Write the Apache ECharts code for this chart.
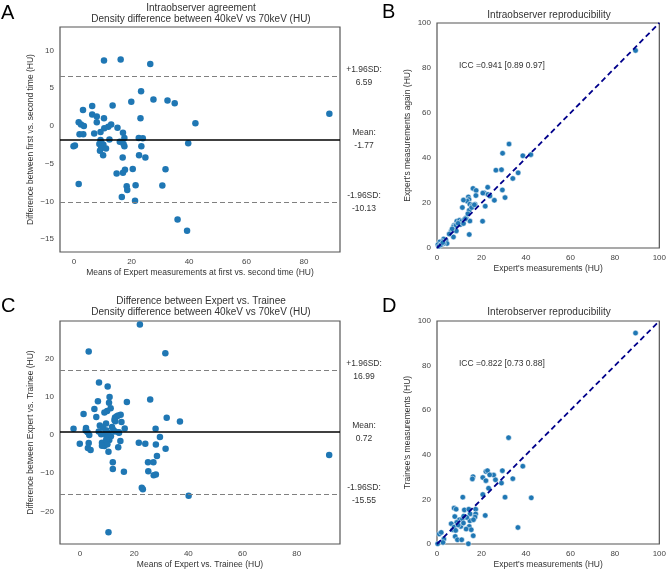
<!DOCTYPE html>
<html>
<head>
<meta charset="utf-8">
<script src="https://cdn.jsdelivr.net/npm/echarts@6/dist/echarts.min.js"></script>
<style>
  html, body { margin: 0; padding: 0; background: #fff; }
  #chart { width: 669px; height: 571px; }
</style>
</head>
<body>
<div id="chart"></div>
<script>
//  A: Bland-Altman, expert first vs second time  [mean, difference]
const intraPoints = [
    [10.4, 8.65], [16.2, 8.8], [26.5, 8.2], [23.3, 4.6], [27.6, 3.5], [32.5, 3.35], [35, 3.0],
    [19.9, 3.2], [13.4, 2.7], [6.3, 2.65], [3.1, 2.1], [6.3, 1.5], [7.9, 1.25], [10.4, 1.0],
    [23.1, 1.0], [88.8, 1.6], [42.2, 0.35], [7.9, 0.5], [1.6, 0.5], [2.4, 0.2], [3.4, 0.0],
    [12.9, 0.2], [11.9, -0.1], [10.5, -0.3], [15.1, -0.25], [9.2, -0.8], [7.0, -1.0], [17.0, -0.9],
    [1.9, -1.1], [3.2, -1.1], [39.7, -2.3], [22.5, -1.6], [23.9, -1.65], [17.5, -1.6], [12.3, -1.8],
    [9.2, -1.85], [9.5, -2.2], [8.8, -2.4], [10.2, -2.5], [15.9, -2.1], [17.2, -2.4], [17.5, -2.7],
    [23.4, -2.7], [-0.2, -2.7], [0.3, -2.6], [9.4, -2.95], [11.1, -3.0], [9.0, -3.3], [10.1, -3.9],
    [22.6, -3.9], [24.8, -4.2], [16.9, -4.2], [20.4, -5.7], [31.8, -5.75], [17.7, -5.8], [17.0, -6.2],
    [14.8, -6.3], [1.6, -7.7], [30.7, -7.9], [21.4, -7.85], [18.3, -8.0], [18.5, -8.5], [16.6, -9.4],
    [21.2, -9.9], [36, -12.4], [39.3, -13.9]
];
//  +1.96SD, mean, -1.96SD
const intraLimits = [6.59, -1.77, -10.13];

//  C: Bland-Altman, expert vs trainee
const interPoints = [
    [22.1, 28.9], [3.2, 21.8], [31.5, 21.4], [7.0, 13.7], [10.2, 12.7], [10.9, 9.9], [6.6, 8.8],
    [17.3, 8.6], [25.9, 9.3], [10.7, 8.4], [5.3, 6.8], [11.3, 7.0], [10.0, 6.3], [9.0, 5.9],
    [1.3, 5.5], [6.0, 4.7], [14.1, 5.1], [15.0, 5.3], [12.9, 4.6], [13.6, 4.9], [12.7, 3.9],
    [15.3, 3.4], [13.0, 3.6], [32.0, 4.5], [36.9, 3.5], [7.3, 2.5], [8.5, 1.9], [9.7, 1.2],
    [9.6, 3.0], [11.8, 2.1], [12.3, 1.3], [12.9, 0.9], [16.5, 1.7], [-2.4, 1.6], [2.2, 1.8],
    [2.1, 1.2], [2.8, 0.7], [3.4, 0.0], [6.9, 0.9], [7.8, 0.2], [9.5, 0.2], [10.5, 0.5],
    [11.4, -0.3], [14.3, 0.7], [27.9, 1.6], [29.5, -0.5], [21.7, -2.0], [24.1, -2.3], [28.0, -2.5],
    [31.6, -3.6], [-0.1, -2.3], [3.2, -2.1], [2.9, -3.4], [3.9, -3.9], [8.1, -2.0], [9.0, -2.9],
    [8.1, -2.8], [10.8, -1.3], [10.0, -0.7], [9.7, -1.1], [10.1, -2.4], [10.5, -4.4], [14.9, -1.6],
    [14.1, -3.2], [12.1, -7.1], [12.1, -8.9], [16.2, -9.6], [22.8, -13.8], [23.2, -14.2], [25.1, -7.1],
    [27.1, -7.1], [25.2, -9.5], [27.2, -10.5], [28.0, -10.3], [28.4, -5.5], [40.1, -15.9], [92.0, -5.2],
    [10.5, -25.4], [9.6, 1.1], [14.4, 0.6]
];
const interLimits = [16.99, 0.72, -15.55];
const limitNames = ['+1.96SD:', 'Mean:', '-1.96SD:'];

//  B: expert first vs again
const reproPoints = [
    [89.3, 87.8], [32.4, 46.2], [29.5, 42.1], [38.6, 41.0], [42.2, 41.5], [26.5, 34.6], [29.0, 34.8],
    [36.5, 33.4], [34.1, 30.9], [29.4, 25.8], [30.6, 22.4], [25.8, 21.2], [16.2, 26.5], [17.6, 25.6],
    [22.8, 27.0], [21.3, 24.5], [22.9, 23.8], [23.8, 23.1], [20.6, 24.4], [17.5, 23.3], [14.1, 22.7],
    [14.4, 21.6], [13.6, 20.8], [11.9, 21.3], [14.8, 19.5], [15.9, 19.0], [17.1, 19.5], [14.5, 16.8],
    [15.6, 18.0], [11.4, 18.0], [21.7, 18.6], [20.5, 11.9], [14.8, 12.0], [14.5, 6.0], [7.4, 4.9],
    [6.4, 7.6], [8.7, 7.6], [7.7, 10.1], [8.9, 11.9], [10.1, 12.3], [11.1, 11.9], [12.3, 12.7],
    [13.1, 13.5], [7.4, 9.4], [8.6, 10.1], [10.5, 10.4], [11.9, 10.9], [4.0, 3.4], [3.0, 4.0],
    [2.2, 3.0], [1.2, 2.7], [0.4, 1.5], [0.9, 0.8], [4.5, 2.0], [3.0, 2.0], [9.5, 11.0],
    [12.8, 13.0], [6.8, 8.5], [5.5, 6.2], [1.8, 1.5], [2.6, 2.4], [16.8, 19.2], [13.9, 15.2]
];

//  D: expert vs trainee
const traineePoints = [
    [89.3, 94.6], [32.2, 47.7], [38.6, 34.9], [29.4, 32.9], [22.0, 32.5], [22.7, 32.9], [25.5, 30.9],
    [23.7, 31.0], [26.3, 28.8], [20.6, 29.8], [22.0, 28.4], [16.2, 30.2], [15.9, 29.2], [29.0, 27.3],
    [34.1, 29.3], [23.2, 25.0], [20.6, 22.2], [30.6, 21.0], [42.4, 20.7], [11.6, 21.0], [7.7, 16.1],
    [8.6, 15.6], [12.3, 15.3], [14.3, 15.6], [17.4, 15.6], [14.9, 13.5], [17.4, 13.5], [14.8, 10.4],
    [21.7, 12.8], [17.1, 12.1], [16.4, 10.9], [8.0, 12.3], [10.1, 10.9], [11.4, 11.2], [13.4, 11.9],
    [8.9, 9.7], [6.4, 9.1], [10.7, 7.9], [11.9, 9.4], [14.5, 7.9], [15.4, 6.4], [13.1, 6.7],
    [7.1, 6.4], [7.7, 7.6], [8.4, 6.1], [36.4, 7.4], [16.3, 3.7], [8.2, 3.4], [9.2, 1.9],
    [11.1, 1.9], [14.1, 0.1], [1.0, 4.5], [1.9, 5.2], [3.1, 2.2], [2.7, 0.7], [0.3, 0.1],
    [12.0, 12.5], [9.5, 8.5]
];
const identityLine = [[0, 0], [100, 100]];

const baTicksX = [0, 20, 40, 60, 80];
const intraTicksY = [-15, -10, -5, 0, 5, 10];
const interTicksY = [-20, -10, 0, 10, 20];

const FONT = '"Liberation Sans", Arial, sans-serif';
const textColor = '#333';
const tickColor = '#444';
const pointColor = '#1f77b4';

const gridBase = {show: true, borderColor: '#555', borderWidth: 1.2, backgroundColor: 'transparent'};

//  刻度文字用真正的负号
const tickLabel = function (values) {
    const label = {
        color: tickColor, fontSize: 8, fontFamily: FONT, margin: 6,
        formatter: v => String(v).replace('-', '\u2212'),
    };
    if (values) label.customValues = values;
    return label;
};

function valueAxis(gridIndex, min, max, name, gap, extra) {
    return Object.assign({
        type: 'value',
        gridIndex: gridIndex,
        min: min,
        max: max,
        name: name,
        nameLocation: 'middle',
        nameGap: gap,
        nameTextStyle: {color: textColor, fontSize: 8.5, fontFamily: FONT},
        axisLine: {show: false},
        axisTick: {show: false},
        splitLine: {show: false},
        axisLabel: tickLabel(),
    }, extra || {});
}

//  均值与一致性界限
function limitLines(limits) {
    const styles = [
        {color: '#808080', type: [5, 3], width: 1.1},
        {color: '#000', type: 'solid', width: 1.5},
        {color: '#808080', type: [5, 3], width: 1.1},
    ];
    return {
        symbol: 'none',
        silent: true,
        animation: false,
        label: {
            position: 'end',
            distance: 24,
            align: 'center',
            color: textColor,
            fontSize: 8.5,
            fontFamily: FONT,
            lineHeight: 13,
        },
        data: limits.map((v, i) => ({
            yAxis: v,
            lineStyle: styles[i],
            label: {formatter: limitNames[i] + '\n' + v.toFixed(2)},
        })),
    };
}

function headText(x, y, text, opts) {
    return {
        type: 'text',
        x: x,
        y: y,
        silent: true,
        style: Object.assign({
            text: text,
            fill: textColor,
            font: '10px ' + FONT,
            textAlign: 'center',
            textVerticalAlign: 'middle',
            lineHeight: 11,
        }, opts || {}),
    };
}

const option = {
    animation: false,
    backgroundColor: '#fff',
    grid: [
        Object.assign({left: 60, top: 27, width: 280, height: 225}, gridBase),
        Object.assign({left: 437, top: 23, width: 225, height: 225}, gridBase),
        Object.assign({left: 60, top: 321, width: 280, height: 223}, gridBase),
        Object.assign({left: 437, top: 321, width: 225, height: 223}, gridBase),
    ],
    xAxis: [
        valueAxis(0, -4.9, 92.5, 'Means of Expert measurements at first vs. second time (HU)', 16,
            {axisLabel: tickLabel(baTicksX)}),
        valueAxis(1, 0, 100, "Expert's measurements (HU)", 16, {interval: 20}),
        valueAxis(2, -7.4, 96, 'Means of Expert vs. Trainee (HU)', 16,
            {axisLabel: tickLabel(baTicksX)}),
        valueAxis(3, 0, 100, "Expert's measurements (HU)", 16, {interval: 20}),
    ],
    yAxis: [
        valueAxis(0, -16.7, 13.1, 'Difference between first vs. second time (HU)', 25,
            {axisLabel: tickLabel(intraTicksY)}),
        valueAxis(1, 0, 100, "Expert's measurements again (HU)", 25, {interval: 20}),
        valueAxis(2, -28.5, 29.8, 'Difference between Expert vs. Trainee (HU)', 25,
            {axisLabel: tickLabel(interTicksY)}),
        valueAxis(3, 0, 100, "Trainee's measurements (HU)", 25, {interval: 20}),
    ],
    series: [
        {
            type: 'scatter', xAxisIndex: 0, yAxisIndex: 0,
            data: intraPoints, symbolSize: 6.5,
            itemStyle: {color: pointColor, opacity: 1},
            markLine: limitLines(intraLimits),
        },
        {
            type: 'scatter', xAxisIndex: 2, yAxisIndex: 2,
            data: interPoints, symbolSize: 6.5,
            itemStyle: {color: pointColor, opacity: 1},
            markLine: limitLines(interLimits),
        },
        {
            type: 'scatter', xAxisIndex: 1, yAxisIndex: 1,
            data: reproPoints, symbolSize: 5.5,
            itemStyle: {color: pointColor, opacity: 1, borderColor: '#fff', borderWidth: 0.5},
        },
        {
            type: 'scatter', xAxisIndex: 3, yAxisIndex: 3,
            data: traineePoints, symbolSize: 5.5,
            itemStyle: {color: pointColor, opacity: 1, borderColor: '#fff', borderWidth: 0.5},
        },
        //  对角线
        {
            type: 'line', xAxisIndex: 1, yAxisIndex: 1, data: identityLine,
            symbol: 'none', silent: true, z: 3,
            lineStyle: {color: '#00008B', width: 1.8, type: [5.5, 3.5]},
        },
        {
            type: 'line', xAxisIndex: 3, yAxisIndex: 3, data: identityLine,
            symbol: 'none', silent: true, z: 3,
            lineStyle: {color: '#00008B', width: 1.8, type: [5.5, 3.5]},
        },
    ],
    graphic: [
        headText(201, 13.5, 'Intraobserver agreement\nDensity difference between 40keV vs 70keV (HU)'),
        headText(201, 306.5, 'Difference between Expert vs. Trainee\nDensity difference between 40keV vs 70keV (HU)'),
        headText(549, 15, 'Intraobserver reproducibility'),
        headText(549, 312, 'Interobserver reproducibility'),
        headText(459, 66, 'ICC =0.941 [0.89 0.97]', {textAlign: 'left', font: '8.5px ' + FONT}),
        headText(459, 363.5, 'ICC =0.822 [0.73 0.88]', {textAlign: 'left', font: '8.5px ' + FONT}),
        headText(1, 13, 'A', {textAlign: 'left', font: '20px ' + FONT, fill: '#000'}),
        headText(382, 12, 'B', {textAlign: 'left', font: '20px ' + FONT, fill: '#000'}),
        headText(1, 306, 'C', {textAlign: 'left', font: '20px ' + FONT, fill: '#000'}),
        headText(382, 306.5, 'D', {textAlign: 'left', font: '20px ' + FONT, fill: '#000'}),
    ],
};

const myChart = echarts.init(document.getElementById('chart'), null, {renderer: 'canvas'});
myChart.setOption(option);
</script>
</body>
</html>
